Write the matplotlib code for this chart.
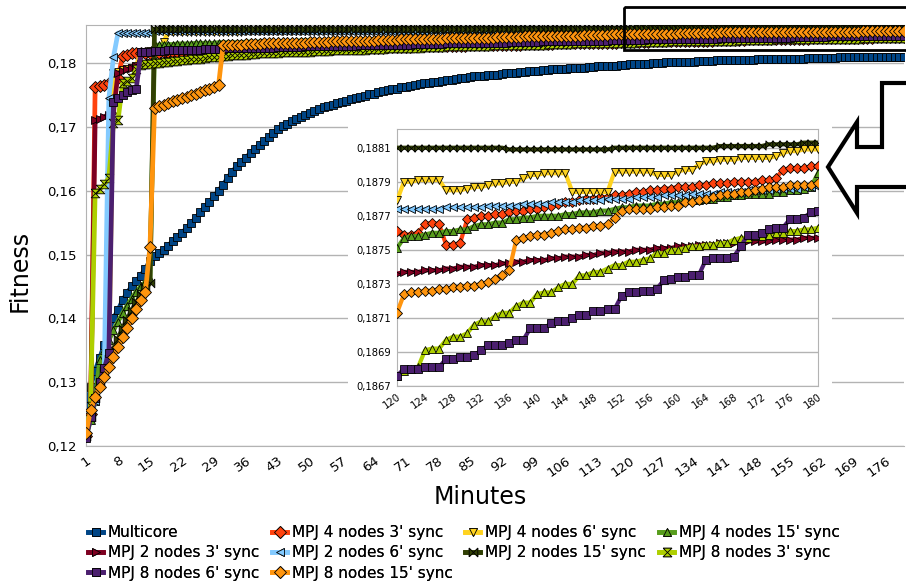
import matplotlib
matplotlib.use("Agg")
import matplotlib.pyplot as plt
import matplotlib.patches as mpatches
import numpy as np

W, H = 906, 587

# ---------------------------------------------------------------- data
minutes = np.arange(1, 181)
inset_minutes = np.arange(120, 181)

series_names = [
    "Multicore",
    "MPJ 4 nodes 3' sync", "MPJ 4 nodes 6' sync", "MPJ 4 nodes 15' sync",
    "MPJ 2 nodes 3' sync", "MPJ 2 nodes 6' sync", "MPJ 2 nodes 15' sync",
    "MPJ 8 nodes 3' sync", "MPJ 8 nodes 6' sync", "MPJ 8 nodes 15' sync",
]

# full run, fitness in units of 1e-4
multicore = [
    1254, 1293, 1318, 1338, 1358, 1380, 1400, 1413, 1428, 1440, 1450, 1458, 1467, 1478, 1490,
    1497, 1502, 1507, 1514, 1521, 1527, 1534, 1541, 1549, 1557, 1566, 1574, 1582, 1591, 1600,
    1609, 1620, 1630, 1638, 1645, 1652, 1659, 1666, 1672, 1678, 1684, 1690, 1696, 1701, 1705,
    1709, 1713, 1716, 1719, 1722, 1725, 1728, 1731, 1733, 1735, 1737, 1739, 1741, 1743, 1745,
    1747, 1749, 1751, 1752, 1754, 1756, 1757, 1759, 1760, 1762, 1763, 1764, 1766, 1767, 1768,
    1769, 1770, 1771, 1772, 1773, 1774, 1775, 1776, 1777, 1778, 1779, 1779, 1780, 1781, 1782,
    1782, 1783, 1784, 1784, 1785, 1786, 1786, 1787, 1788, 1788, 1789, 1789, 1790, 1790, 1791,
    1791, 1792, 1792, 1793, 1793, 1794, 1794, 1795, 1795, 1796, 1796, 1796, 1797, 1797, 1798,
    1798, 1798, 1799, 1799, 1800, 1800, 1800, 1801, 1801, 1801, 1802, 1802, 1802, 1802, 1803,
    1803, 1803, 1803, 1804, 1804, 1804, 1804, 1805, 1805, 1805, 1805, 1805, 1806, 1806, 1806,
    1806, 1806, 1807, 1807, 1807, 1807, 1807, 1807, 1808, 1808, 1808, 1808, 1808, 1808, 1808,
    1809, 1809, 1809, 1809, 1809, 1809, 1809, 1809, 1809, 1810, 1810, 1810, 1810, 1810, 1810,
]
mpj4_3 = [
    1215, 1250, 1762, 1764, 1766, 1768, 1772, 1776, 1811, 1813, 1815, 1815, 1816, 1816, 1816,
    1816, 1816, 1817, 1817, 1817, 1817, 1817, 1817, 1818, 1818, 1818, 1818, 1818, 1818, 1818,
    1818, 1819, 1819, 1819, 1819, 1819, 1819, 1820, 1820, 1820, 1820, 1820, 1820, 1820, 1821,
    1821, 1821, 1821, 1821, 1822, 1822, 1822, 1822, 1822, 1822, 1823, 1823, 1823, 1823, 1823,
    1823, 1824, 1824, 1824, 1824, 1824, 1825, 1825, 1825, 1825, 1825, 1825, 1826, 1826, 1826,
    1826, 1826, 1826, 1827, 1827, 1827, 1827, 1827, 1827, 1828, 1828, 1828, 1828, 1828, 1828,
    1829, 1829, 1829, 1829, 1829, 1829, 1830, 1830, 1830, 1830, 1830, 1830, 1830, 1831, 1831,
    1831, 1831, 1831, 1831, 1831, 1832, 1832, 1832, 1832, 1832, 1832, 1832, 1833, 1833, 1833,
    1833, 1833, 1833, 1833, 1834, 1834, 1834, 1834, 1834, 1834, 1834, 1835, 1835, 1835, 1835,
    1835, 1835, 1835, 1836, 1836, 1836, 1836, 1836, 1836, 1836, 1837, 1837, 1837, 1837, 1837,
    1837, 1837, 1838, 1838, 1838, 1838, 1838, 1838, 1838, 1839, 1839, 1839, 1839, 1839, 1839,
    1839, 1840, 1840, 1840, 1840, 1840, 1840, 1840, 1841, 1841, 1841, 1841, 1841, 1841, 1841,
]
mpj4_6 = [
    1215, 1250, 1278, 1300, 1322, 1340, 1784, 1786, 1789, 1791, 1793, 1795, 1817, 1818, 1819,
    1820, 1822, 1833, 1848, 1848, 1849, 1849, 1849, 1849, 1849, 1849, 1849, 1849, 1849, 1849,
    1849, 1849, 1849, 1849, 1849, 1850, 1850, 1850, 1850, 1850, 1850, 1850, 1850, 1850, 1850,
    1850, 1850, 1850, 1850, 1850, 1850, 1850, 1850, 1850, 1850, 1850, 1850, 1850, 1850, 1850,
    1850, 1850, 1850, 1850, 1850, 1851, 1851, 1851, 1851, 1851, 1851, 1851, 1851, 1851, 1851,
    1851, 1851, 1851, 1851, 1851, 1851, 1851, 1851, 1851, 1851, 1851, 1851, 1851, 1851, 1851,
    1851, 1851, 1851, 1851, 1851, 1852, 1852, 1852, 1852, 1852, 1852, 1852, 1852, 1852, 1852,
    1852, 1852, 1852, 1852, 1852, 1852, 1852, 1852, 1852, 1852, 1852, 1852, 1852, 1852, 1852,
    1852, 1852, 1852, 1852, 1852, 1853, 1853, 1853, 1853, 1853, 1853, 1853, 1853, 1853, 1853,
    1853, 1853, 1853, 1853, 1853, 1853, 1853, 1853, 1853, 1853, 1853, 1853, 1853, 1853, 1853,
    1853, 1853, 1853, 1853, 1853, 1853, 1853, 1853, 1853, 1853, 1853, 1853, 1853, 1853, 1853,
    1853, 1853, 1853, 1853, 1853, 1854, 1854, 1854, 1854, 1854, 1854, 1854, 1854, 1854, 1854,
]
mpj4_15 = [
    1215, 1240, 1270, 1334, 1350, 1366, 1381, 1395, 1408, 1420, 1431, 1442, 1450, 1457, 1462,
    1828, 1828, 1829, 1829, 1829, 1830, 1830, 1830, 1830, 1831, 1831, 1831, 1831, 1831, 1832,
    1832, 1832, 1832, 1832, 1832, 1833, 1833, 1833, 1833, 1833, 1833, 1834, 1834, 1834, 1834,
    1834, 1834, 1835, 1835, 1835, 1835, 1835, 1835, 1836, 1836, 1836, 1836, 1836, 1836, 1836,
    1837, 1837, 1837, 1837, 1837, 1837, 1837, 1838, 1838, 1838, 1838, 1838, 1838, 1838, 1838,
    1839, 1839, 1839, 1839, 1839, 1839, 1839, 1839, 1840, 1840, 1840, 1840, 1840, 1840, 1840,
    1840, 1841, 1841, 1841, 1841, 1841, 1841, 1841, 1841, 1842, 1842, 1842, 1842, 1842, 1842,
    1842, 1842, 1843, 1843, 1843, 1843, 1843, 1843, 1843, 1843, 1844, 1844, 1844, 1844, 1844,
    1844, 1844, 1844, 1844, 1845, 1845, 1845, 1845, 1845, 1845, 1845, 1845, 1846, 1846, 1846,
    1846, 1846, 1846, 1846, 1846, 1846, 1847, 1847, 1847, 1847, 1847, 1847, 1847, 1847, 1847,
    1848, 1848, 1848, 1848, 1848, 1848, 1848, 1848, 1848, 1849, 1849, 1849, 1849, 1849, 1849,
    1849, 1849, 1849, 1850, 1850, 1850, 1850, 1850, 1850, 1850, 1850, 1850, 1851, 1851, 1851,
]
mpj2_3 = [
    1215, 1250, 1710, 1713, 1716, 1719, 1722, 1784, 1787, 1790, 1793, 1796, 1799, 1800, 1801,
    1802, 1802, 1803, 1804, 1805, 1805, 1806, 1807, 1808, 1808, 1809, 1810, 1811, 1811, 1812,
    1813, 1813, 1814, 1814, 1815, 1815, 1816, 1816, 1817, 1817, 1818, 1818, 1818, 1819, 1819,
    1819, 1820, 1820, 1820, 1820, 1821, 1821, 1821, 1821, 1822, 1822, 1822, 1822, 1823, 1823,
    1823, 1823, 1824, 1824, 1824, 1824, 1825, 1825, 1825, 1825, 1826, 1826, 1826, 1826, 1827,
    1827, 1827, 1827, 1827, 1828, 1828, 1828, 1828, 1828, 1829, 1829, 1829, 1829, 1829, 1830,
    1830, 1830, 1830, 1830, 1830, 1831, 1831, 1831, 1831, 1831, 1831, 1832, 1832, 1832, 1832,
    1832, 1832, 1833, 1833, 1833, 1833, 1833, 1833, 1833, 1834, 1834, 1834, 1834, 1834, 1834,
    1834, 1835, 1835, 1835, 1835, 1835, 1835, 1835, 1836, 1836, 1836, 1836, 1836, 1836, 1836,
    1837, 1837, 1837, 1837, 1837, 1837, 1837, 1837, 1838, 1838, 1838, 1838, 1838, 1838, 1838,
    1838, 1839, 1839, 1839, 1839, 1839, 1839, 1839, 1839, 1839, 1840, 1840, 1840, 1840, 1840,
    1840, 1840, 1840, 1840, 1840, 1841, 1841, 1841, 1841, 1841, 1841, 1841, 1841, 1841, 1841,
]
mpj2_6 = [
    1215, 1245, 1270, 1295, 1320, 1745, 1809, 1847, 1847, 1847, 1847, 1847, 1847, 1847, 1847,
    1850, 1850, 1850, 1850, 1850, 1850, 1850, 1850, 1850, 1850, 1850, 1850, 1850, 1850, 1850,
    1850, 1850, 1850, 1850, 1850, 1850, 1850, 1850, 1850, 1850, 1850, 1850, 1850, 1850, 1850,
    1850, 1850, 1850, 1850, 1850, 1850, 1850, 1850, 1850, 1850, 1850, 1850, 1850, 1850, 1850,
    1850, 1850, 1850, 1850, 1850, 1850, 1850, 1850, 1850, 1850, 1850, 1850, 1850, 1850, 1850,
    1851, 1851, 1851, 1851, 1851, 1851, 1851, 1851, 1851, 1851, 1851, 1851, 1851, 1851, 1851,
    1851, 1851, 1851, 1851, 1851, 1851, 1851, 1851, 1851, 1851, 1851, 1851, 1851, 1851, 1851,
    1851, 1851, 1851, 1851, 1851, 1851, 1851, 1851, 1851, 1851, 1851, 1851, 1851, 1851, 1851,
    1851, 1851, 1851, 1851, 1851, 1851, 1851, 1851, 1851, 1851, 1851, 1851, 1851, 1851, 1851,
    1852, 1852, 1852, 1852, 1852, 1852, 1852, 1852, 1852, 1852, 1852, 1852, 1852, 1852, 1852,
    1852, 1852, 1852, 1852, 1852, 1852, 1852, 1852, 1852, 1852, 1852, 1852, 1852, 1852, 1852,
    1852, 1852, 1852, 1852, 1852, 1852, 1852, 1852, 1852, 1852, 1852, 1852, 1852, 1852, 1852,
]
mpj2_15 = [
    1215, 1245, 1275, 1300, 1318, 1336, 1352, 1368, 1384, 1398, 1412, 1425, 1437, 1447, 1455,
    1853, 1853, 1853, 1853, 1853, 1853, 1853, 1853, 1853, 1853, 1853, 1853, 1853, 1853, 1853,
    1853, 1853, 1853, 1853, 1853, 1853, 1853, 1853, 1853, 1853, 1853, 1853, 1853, 1853, 1853,
    1853, 1853, 1853, 1853, 1853, 1853, 1853, 1853, 1853, 1853, 1853, 1853, 1853, 1853, 1853,
    1854, 1854, 1854, 1854, 1854, 1854, 1854, 1854, 1854, 1854, 1854, 1854, 1854, 1854, 1854,
    1854, 1854, 1854, 1854, 1854, 1854, 1854, 1854, 1854, 1854, 1854, 1854, 1854, 1854, 1854,
    1854, 1854, 1854, 1854, 1854, 1854, 1854, 1854, 1854, 1854, 1854, 1854, 1854, 1854, 1854,
    1854, 1854, 1854, 1854, 1854, 1854, 1854, 1854, 1854, 1854, 1854, 1854, 1854, 1854, 1854,
    1855, 1855, 1855, 1855, 1855, 1855, 1855, 1855, 1855, 1855, 1855, 1855, 1855, 1855, 1855,
    1855, 1855, 1855, 1855, 1855, 1855, 1855, 1855, 1855, 1855, 1855, 1855, 1855, 1855, 1855,
    1855, 1855, 1855, 1855, 1855, 1855, 1855, 1855, 1855, 1855, 1855, 1855, 1855, 1855, 1855,
    1855, 1855, 1855, 1855, 1855, 1855, 1855, 1855, 1855, 1855, 1855, 1855, 1855, 1855, 1855,
]
mpj8_3 = [
    1215, 1262, 1597, 1602, 1610, 1620, 1706, 1710, 1768, 1772, 1776, 1790, 1797, 1798, 1799,
    1800, 1800, 1801, 1802, 1803, 1803, 1804, 1805, 1806, 1806, 1807, 1808, 1809, 1809, 1810,
    1811, 1811, 1812, 1812, 1813, 1813, 1814, 1814, 1815, 1815, 1816, 1816, 1816, 1817, 1817,
    1817, 1818, 1818, 1818, 1818, 1819, 1819, 1819, 1819, 1820, 1820, 1820, 1820, 1821, 1821,
    1821, 1821, 1822, 1822, 1822, 1822, 1823, 1823, 1823, 1823, 1824, 1824, 1824, 1824, 1825,
    1825, 1825, 1825, 1825, 1826, 1826, 1826, 1826, 1826, 1827, 1827, 1827, 1827, 1827, 1828,
    1828, 1828, 1828, 1828, 1828, 1829, 1829, 1829, 1829, 1829, 1829, 1830, 1830, 1830, 1830,
    1830, 1830, 1831, 1831, 1831, 1831, 1831, 1831, 1831, 1832, 1832, 1832, 1832, 1832, 1832,
    1832, 1833, 1833, 1833, 1833, 1833, 1833, 1833, 1834, 1834, 1834, 1834, 1834, 1834, 1834,
    1835, 1835, 1835, 1835, 1835, 1835, 1835, 1835, 1836, 1836, 1836, 1836, 1836, 1836, 1836,
    1836, 1837, 1837, 1837, 1837, 1837, 1837, 1837, 1837, 1837, 1838, 1838, 1838, 1838, 1838,
    1838, 1838, 1838, 1838, 1838, 1839, 1839, 1839, 1839, 1839, 1839, 1839, 1839, 1839, 1839,
]
mpj8_6 = [
    1212, 1245, 1275, 1300, 1322, 1345, 1739, 1745, 1750, 1754, 1757, 1760, 1817, 1818, 1818,
    1819, 1819, 1819, 1820, 1820, 1820, 1820, 1821, 1821, 1821, 1821, 1822, 1822, 1822, 1822,
    1822, 1823, 1823, 1823, 1823, 1823, 1824, 1824, 1824, 1824, 1824, 1824, 1825, 1825, 1825,
    1825, 1825, 1825, 1826, 1826, 1826, 1826, 1826, 1826, 1827, 1827, 1827, 1827, 1827, 1827,
    1828, 1828, 1828, 1828, 1828, 1828, 1829, 1829, 1829, 1829, 1829, 1829, 1830, 1830, 1830,
    1830, 1830, 1830, 1830, 1831, 1831, 1831, 1831, 1831, 1831, 1831, 1832, 1832, 1832, 1832,
    1832, 1832, 1832, 1833, 1833, 1833, 1833, 1833, 1833, 1833, 1834, 1834, 1834, 1834, 1834,
    1834, 1834, 1834, 1835, 1835, 1835, 1835, 1835, 1835, 1835, 1836, 1836, 1836, 1836, 1836,
    1836, 1836, 1836, 1837, 1837, 1837, 1837, 1837, 1837, 1837, 1837, 1838, 1838, 1838, 1838,
    1838, 1838, 1838, 1838, 1839, 1839, 1839, 1839, 1839, 1839, 1839, 1839, 1840, 1840, 1840,
    1840, 1840, 1840, 1840, 1840, 1841, 1841, 1841, 1841, 1841, 1841, 1841, 1841, 1842, 1842,
    1842, 1842, 1842, 1842, 1842, 1842, 1842, 1843, 1843, 1843, 1843, 1843, 1843, 1843, 1843,
]
mpj8_15 = [
    1220, 1256, 1277, 1293, 1308, 1323, 1339, 1355, 1370, 1385, 1400, 1414, 1428, 1442, 1512,
    1730, 1732, 1735, 1737, 1740, 1742, 1745, 1747, 1750, 1752, 1755, 1757, 1760, 1762, 1765,
    1828, 1828, 1829, 1829, 1829, 1830, 1830, 1830, 1830, 1831, 1831, 1831, 1831, 1831, 1832,
    1832, 1832, 1832, 1832, 1833, 1833, 1833, 1833, 1833, 1834, 1834, 1834, 1834, 1834, 1835,
    1835, 1835, 1835, 1835, 1836, 1836, 1836, 1836, 1836, 1837, 1837, 1837, 1837, 1837, 1838,
    1838, 1838, 1838, 1838, 1839, 1839, 1839, 1839, 1839, 1840, 1840, 1840, 1840, 1840, 1840,
    1841, 1841, 1841, 1841, 1841, 1841, 1842, 1842, 1842, 1842, 1842, 1842, 1843, 1843, 1843,
    1843, 1843, 1843, 1843, 1844, 1844, 1844, 1844, 1844, 1844, 1845, 1845, 1845, 1845, 1845,
    1845, 1845, 1846, 1846, 1846, 1846, 1846, 1846, 1846, 1846, 1847, 1847, 1847, 1847, 1847,
    1847, 1847, 1847, 1847, 1848, 1848, 1848, 1848, 1848, 1848, 1848, 1848, 1848, 1848, 1848,
    1849, 1849, 1849, 1849, 1849, 1849, 1849, 1849, 1849, 1849, 1849, 1849, 1849, 1849, 1849,
    1849, 1849, 1849, 1849, 1849, 1850, 1850, 1850, 1850, 1850, 1850, 1850, 1850, 1850, 1850,
]

# close-up of minutes 120-180, fitness in units of 1e-5
zoom_mpj4_3 = [
    18761, 18759, 18759, 18760, 18765, 18766, 18765, 18753, 18753, 18754,
    18768, 18769, 18770, 18770, 18771, 18771, 18772, 18773, 18773, 18774,
    18774, 18775, 18776, 18777, 18778, 18778, 18779, 18780, 18780, 18781,
    18781, 18782, 18782, 18783, 18784, 18784, 18785, 18785, 18786, 18786,
    18787, 18787, 18787, 18788, 18788, 18789, 18789, 18789, 18790, 18790,
    18790, 18790, 18791, 18791, 18792, 18797, 18798, 18798, 18798, 18799, 18799,
]
zoom_mpj4_6 = [
    18779, 18790, 18790, 18791, 18791, 18791, 18791, 18785, 18785, 18785,
    18786, 18787, 18787, 18788, 18789, 18789, 18790, 18790, 18792, 18794,
    18794, 18795, 18795, 18795, 18795, 18784, 18784, 18784, 18784, 18784,
    18784, 18796, 18796, 18796, 18796, 18796, 18796, 18794, 18794, 18794,
    18796, 18797, 18797, 18800, 18802, 18802, 18803, 18803, 18803, 18804,
    18804, 18804, 18804, 18804, 18805, 18807, 18808, 18808, 18809, 18809, 18809,
]
zoom_mpj4_15 = [
    18751, 18757, 18758, 18758, 18759, 18760, 18760, 18761, 18761, 18762,
    18762, 18764, 18765, 18765, 18766, 18766, 18768, 18768, 18769, 18769,
    18770, 18770, 18770, 18770, 18771, 18771, 18772, 18772, 18772, 18773,
    18773, 18774, 18775, 18775, 18776, 18776, 18776, 18777, 18777, 18778,
    18778, 18779, 18779, 18779, 18780, 18780, 18781, 18781, 18782, 18782,
    18783, 18783, 18783, 18783, 18784, 18784, 18785, 18785, 18786, 18787, 18795,
]
zoom_mpj2_3 = [
    18736, 18737, 18737, 18737, 18738, 18738, 18738, 18739, 18739, 18740,
    18740, 18740, 18741, 18741, 18741, 18742, 18742, 18743, 18743, 18744,
    18744, 18744, 18745, 18745, 18746, 18746, 18746, 18747, 18747, 18748,
    18748, 18749, 18749, 18749, 18750, 18750, 18750, 18751, 18751, 18751,
    18752, 18752, 18752, 18753, 18753, 18753, 18754, 18754, 18754, 18754,
    18755, 18755, 18755, 18755, 18756, 18756, 18756, 18756, 18757, 18757, 18757,
]
zoom_mpj2_6 = [
    18774, 18774, 18774, 18774, 18774, 18774, 18774, 18775, 18775, 18775,
    18775, 18775, 18775, 18776, 18776, 18776, 18776, 18776, 18777, 18777,
    18777, 18777, 18778, 18778, 18778, 18778, 18779, 18779, 18779, 18779,
    18780, 18780, 18780, 18780, 18781, 18781, 18781, 18781, 18782, 18782,
    18782, 18782, 18783, 18783, 18783, 18783, 18784, 18784, 18784, 18784,
    18785, 18785, 18785, 18785, 18786, 18786, 18786, 18786, 18787, 18787, 18787,
]
zoom_mpj2_15 = [
    18810, 18810, 18810, 18810, 18810, 18810, 18810, 18810, 18810, 18810,
    18810, 18810, 18810, 18810, 18810, 18810, 18809, 18809, 18809, 18809,
    18809, 18809, 18809, 18809, 18809, 18809, 18809, 18809, 18809, 18809,
    18809, 18810, 18810, 18810, 18810, 18810, 18810, 18810, 18810, 18810,
    18810, 18810, 18810, 18810, 18810, 18810, 18811, 18811, 18811, 18811,
    18811, 18811, 18811, 18812, 18812, 18812, 18812, 18812, 18813, 18813, 18813,
]
zoom_mpj8_3 = [
    18676, 18679, 18680, 18681, 18691, 18692, 18692, 18697, 18699, 18699,
    18701, 18706, 18708, 18708, 18711, 18713, 18713, 18717, 18719, 18719,
    18724, 18725, 18725, 18728, 18730, 18730, 18735, 18735, 18737, 18737,
    18739, 18741, 18741, 18743, 18743, 18744, 18745, 18748, 18748, 18750,
    18750, 18751, 18752, 18752, 18753, 18753, 18754, 18754, 18756, 18757,
    18757, 18758, 18758, 18759, 18760, 18760, 18761, 18761, 18762, 18762, 18763,
]
zoom_mpj8_6 = [
    18676, 18680, 18680, 18680, 18681, 18681, 18681, 18686, 18686, 18687,
    18687, 18688, 18691, 18694, 18694, 18694, 18695, 18697, 18697, 18704,
    18704, 18704, 18707, 18708, 18708, 18710, 18712, 18712, 18714, 18714,
    18715, 18715, 18723, 18725, 18725, 18726, 18726, 18727, 18732, 18733,
    18734, 18734, 18735, 18735, 18744, 18745, 18745, 18745, 18746, 18752,
    18759, 18759, 18760, 18762, 18763, 18763, 18768, 18768, 18769, 18772, 18773,
]
zoom_mpj8_15 = [
    18713, 18724, 18725, 18725, 18726, 18726, 18727, 18727, 18728, 18728,
    18729, 18729, 18730, 18731, 18733, 18735, 18738, 18756, 18757, 18758,
    18759, 18759, 18760, 18761, 18762, 18762, 18763, 18763, 18764, 18764,
    18765, 18769, 18773, 18774, 18774, 18774, 18774, 18775, 18775, 18776,
    18776, 18778, 18778, 18779, 18780, 18781, 18782, 18783, 18783, 18784,
    18784, 18785, 18786, 18787, 18787, 18787, 18788, 18788, 18788, 18788, 18789,
]

main_yticks = [0.12, 0.13, 0.14, 0.15, 0.16, 0.17, 0.18]
main_ylabels = ["0,12", "0,13", "0,14", "0,15", "0,16", "0,17", "0,18"]
main_xticks = list(range(1, 181, 7))
zoom_yticks = [0.1867, 0.1869, 0.1871, 0.1873, 0.1875, 0.1877, 0.1879, 0.1881]
zoom_ylabels = ["0,1867", "0,1869", "0,1871", "0,1873", "0,1875",
                "0,1877", "0,1879", "0,1881"]
zoom_xticks = list(range(120, 181, 4))

# ---------------------------------------------------------------- style
colors = ["#004586", "#ff420e", "#ffd320", "#579d1c", "#7e0021",
          "#83caff", "#314004", "#aecf00", "#4b1f6f", "#ff950e"]
bowtie = [(-1, -1), (-1, 1), (1, -1), (1, 1), (-1, -1)]
hourglass = [(-1, 1), (1, 1), (-1, -1), (1, -1), (-1, 1)]
main_markers = ["s", "D", "v", "^", ">", "<", bowtie, hourglass, "s", "D"]
zoom_markers = ["s", "D", "v", "^", ">", "<", bowtie, "^", "s", "D"]
grid_col = "#b3b3b3"

plt.rcParams["font.family"] = "DejaVu Sans"

fig = plt.figure(figsize=(W / 100, H / 100), dpi=100)


def px_box(x0, y0, x1, y1):
    """pixel rectangle (top-left origin) -> figure fraction [l, b, w, h]"""
    return [x0 / W, 1 - y1 / H, (x1 - x0) / W, (y1 - y0) / H]


# ---------------------------------------------------------------- main chart
ax = fig.add_axes(px_box(86, 25, 904, 446))
main_data = [multicore, mpj4_3, mpj4_6, mpj4_15, mpj2_3, mpj2_6, mpj2_15,
             mpj8_3, mpj8_6, mpj8_15]
handles = []
for i, vals in enumerate(main_data):
    ln, = ax.plot(minutes, np.array(vals) / 1e4, color=colors[i], lw=3.4,
                  marker=main_markers[i], ms=6.2, mfc=colors[i], mec="black",
                  mew=0.6, solid_joinstyle="round", zorder=2 + i,
                  label=series_names[i])
    handles.append(ln)

ax.set_xlim(1, 180)
ax.set_ylim(0.12, 0.18596)
ax.set_yticks(main_yticks)
ax.set_yticklabels(main_ylabels, fontsize=9.5)
ax.set_xticks(main_xticks)
ax.set_xticklabels([str(t) for t in main_xticks], fontsize=9.5, rotation=35,
                   ha="right", va="top", rotation_mode="anchor")
ax.tick_params(axis="both", length=0)
ax.tick_params(axis="y", pad=7)
ax.tick_params(axis="x", pad=6)
ax.yaxis.grid(True, color=grid_col, lw=1)
ax.set_axisbelow(True)
for side in ["left", "bottom", "top"]:
    ax.spines[side].set_color(grid_col)
ax.spines["right"].set_visible(False)

fig.text(480 / W, 1 - 497 / H, "Minutes", fontsize=17, ha="center", va="center")
fig.text(20 / W, 1 - 271 / H, "Fitness", fontsize=17, ha="center", va="center",
         rotation=90)

# white backing for the close-up
fig.patches.append(mpatches.Rectangle((348 / W, 1 - 412 / H), (832 - 348) / W,
                                      (412 - 118) / H, transform=fig.transFigure,
                                      facecolor="white", edgecolor="none", zorder=1))

# ---------------------------------------------------------------- close-up
axz = fig.add_axes(px_box(397, 129, 818, 386), zorder=2)
zoom_data = [zoom_mpj4_3, zoom_mpj4_6, zoom_mpj4_15, zoom_mpj2_3, zoom_mpj2_6,
             zoom_mpj2_15, zoom_mpj8_3, zoom_mpj8_6, zoom_mpj8_15]
for j, vals in enumerate(zoom_data):
    i = j + 1
    axz.plot(inset_minutes, np.array(vals) / 1e5, color=colors[i], lw=3.0,
             marker=zoom_markers[i], ms=5.2, mfc=colors[i], mec="black",
             mew=0.6, solid_joinstyle="round", zorder=2 + i)
axz.set_xlim(120, 180)
axz.set_ylim(0.1867, 0.18821)
axz.set_yticks(zoom_yticks)
axz.set_yticklabels(zoom_ylabels, fontsize=7.2)
axz.set_xticks(zoom_xticks)
axz.set_xticklabels([str(t) for t in zoom_xticks], fontsize=7.2, rotation=35,
                    ha="right", va="top", rotation_mode="anchor")
axz.tick_params(axis="both", length=0, pad=4)
axz.yaxis.grid(True, color=grid_col, lw=1)
axz.set_axisbelow(True)
for side in axz.spines.values():
    side.set_color(grid_col)

# ---------------------------------------------------------------- callouts
ov = fig.add_axes([0, 0, 1, 1], zorder=5)
ov.set_xlim(0, W)
ov.set_ylim(H, 0)
ov.axis("off")
ov.patch.set_alpha(0)
ov.add_patch(mpatches.Rectangle((624, 7), 330, 43, fill=False, edgecolor="black", lw=2))
ov.add_patch(mpatches.Polygon([(828, 167), (857, 122), (857, 147), (882, 147), (882, 83),
                               (940, 83), (940, 187), (857, 187), (857, 213)],
                              closed=True, facecolor="white", edgecolor="black", lw=3,
                              joinstyle="miter"))

# ---------------------------------------------------------------- legend
# one legend per column so the column starts can be placed freely
legend_cols = [[0, 4, 8], [1, 5, 9], [2, 6], [3, 7]]
legend_x = [88, 272, 465, 659]
for col, x0 in zip(legend_cols, legend_x):
    leg = fig.legend([handles[k] for k in col], [series_names[k] for k in col],
                     loc="upper left", bbox_to_anchor=(x0 / W, 1 - 525 / H),
                     frameon=False, fontsize=11, handlelength=1.0,
                     handletextpad=0.3, labelspacing=0.35, borderpad=0,
                     borderaxespad=0)
    fig.add_artist(leg)

fig.savefig("out.png", dpi=100)
